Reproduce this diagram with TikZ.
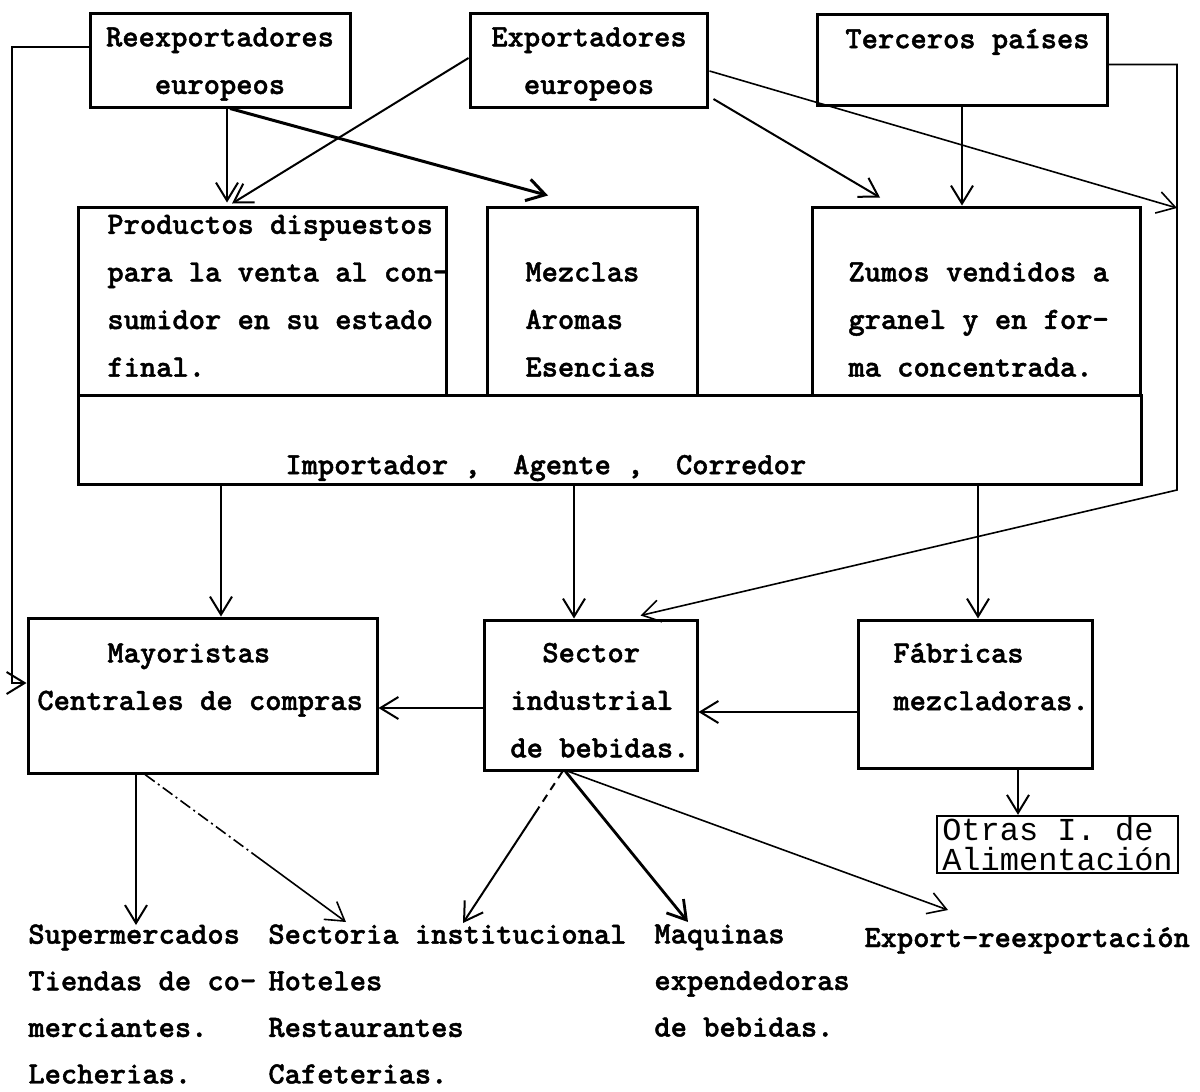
\documentclass[tikz,border=0pt]{standalone}
\usepackage{fontspec}
\usetikzlibrary{arrows.meta}
% typewriter faces: slab-serif heavy mono for the main labels, Courier-like for the small box
\newfontfamily\typefont[FakeBold=1.4]{lmmonolt10-bold.otf}
\newfontfamily\courierfont{Liberation Mono}
\begin{document}
\begin{tikzpicture}[x=0.5pt,y=-0.5pt,
  frame/.style={draw,line width=1.5pt,inner sep=0pt},
  txt/.style={inner sep=0pt,align=left,anchor=north west,
    font=\typefont\fontsize{15.5pt}{23.8pt}\selectfont,
    execute at begin node=\strut},
  txtc/.style={txt,anchor=north,align=center},
  dest/.style={txt,font=\typefont\fontsize{15.5pt}{23.3pt}\selectfont},
  link/.style={line width=1pt,-{Straight Barb[length=9pt,width=11pt]}},
]
\useasboundingbox (0,0) rectangle (1200,1092);
\fill[white] (0,0) rectangle (1200,1092);

% boxes
\node[frame,minimum width=130pt,minimum height=47pt] (reex) at (220,60) {};
\node[frame,minimum width=118.5pt,minimum height=47pt] (expo) at (588.5,60) {};
\node[frame,minimum width=145pt,minimum height=45.5pt] (terc) at (962,59.5) {};
\node[frame,minimum width=184pt,minimum height=94pt] (prod) at (262,301) {};
\node[frame,minimum width=105pt,minimum height=94pt] (mezc) at (592,301) {};
\node[frame,minimum width=164pt,minimum height=94pt] (zumo) at (976,301) {};
\node[frame,minimum width=531.5pt,minimum height=44.5pt] (impo) at (609.5,439.5) {};
\node[frame,minimum width=174.5pt,minimum height=77.5pt] (mayo) at (202.5,695.5) {};
\node[frame,minimum width=106.5pt,minimum height=75pt] (sect) at (590.5,695) {};
\node[frame,minimum width=117pt,minimum height=74pt] (fabr) at (975,694) {};
\node[draw,line width=1.2pt,inner sep=0pt,minimum width=120.5pt,minimum height=28.5pt,
  align=left,font=\courierfont\fontsize{16pt}{15pt}\selectfont] (otra) at (1057.5,844.5)
  {Otras I. de\\Alimentación};

% box texts
\node[txtc] (reexT) at (220,27) {Reexportadores\\europeos};
\node[txtc] (expoT) at (589,27) {Exportadores\\europeos};
\node[txt] (tercT) at (845,14.5) {Terceros países};
\node[txt] (prodT) at (107,214.5) {Productos dispuestos\\para la venta al con-\\sumidor en su estado\\final.};
\node[txt] (mezcT) at (525,262) {Mezclas\\Aromas\\Esencias};
\node[txt] (zumoT) at (848,262) {Zumos vendidos a\\granel y en for-\\ma concentrada.};
\node[txt] (impoT) at (285,440.5) {Importador ,~ Agente ,~ Corredor};
\node[txt] (mayoT) at (37,643) {\hspace*{35pt}Mayoristas\\Centrales de compras};
\node[txt] (sectT) at (510,642.5) {\hspace*{16pt}Sector\\industrial\\de bebidas.};
\node[txt] (fabrT) at (893,642.5) {Fábricas\\mezcladoras.};

% destinations
\node[dest] (colA) at (28,924) {Supermercados\\Tiendas de co-\\merciantes.\\Lecherias.};
\node[dest] (colB) at (268,924) {Sectoria institucional\\Hoteles\\Restaurantes\\Cafeterias.};
\node[dest] (colC) at (654,924) {Maquinas\\expendedoras\\de bebidas.};
\node[dest] (colD) at (864,914) {Export-reexportación};

% bends of the outer right-hand line
\coordinate (rmid) at (1177,208);
\coordinate (rbot) at (1177,490);

% connectors
\draw[link] ([shift={(0,-13)}]reex.west) -| ([shift={(-15,-12.5)}]mayo.west) -- ([shift={(0,-12.5)}]mayo.west);
\draw[link] ([shift={(7,0)}]reex.south) -- ([shift={(-35,-3)}]prod.north);
\draw[link,line width=1.5pt] ([shift={(10,0)}]reex.south) -- ([shift={(-44,-10)}]mezc.north);
\draw[link] ([shift={(0,-2)}]expo.west) -- ([shift={(-30,-2)}]prod.north);
\draw[link] ([shift={(5,39)}]expo.east) -- ([shift={(-96,-8)}]zumo.north);
\draw[link,line width=0.8pt] ([shift={(1,11)}]expo.east) -- (rmid);
\draw[link] (terc.south) -- (terc.south |- zumo.north);
\draw[link,line width=0.8pt] ([shift={(0,5)}]terc.east) -| (rbot) -- ([shift={(50,-3)}]sect.north);
\draw[link] ([shift={(18.5,0)}]mayo.north |- impo.south) -- ([shift={(18.5,0)}]mayo.north);
\draw[link] ([shift={(-16.5,0)}]sect.north |- impo.south) -- ([shift={(-16.5,0)}]sect.north);
\draw[link] ([shift={(3,0)}]fabr.north |- impo.south) -- ([shift={(3,0)}]fabr.north);
\draw[link] ([shift={(0,13)}]sect.west) -- ([shift={(0,13)}]mayo.east |- sect.west);
\draw[link] ([shift={(0,18)}]fabr.west) -- ([shift={(0,18)}]sect.east |- fabr.west);
\draw[link] ([shift={(43,0)}]fabr.south) -- ([shift={(43,0)}]fabr.south |- otra.north);

\draw[link] ([shift={(-66.5,0)}]mayo.south) -- ([shift={(108,1)}]colA.north west);
\draw[link,line width=0.8pt,
  dash pattern=on 6pt off 2pt on 1pt off 2pt on 6pt off 2pt on 1pt off 2pt
    on 6pt off 2pt on 1pt off 2pt on 6pt off 2pt on 1pt off 2pt
    on 6pt off 2pt on 1pt off 2pt on 6pt off 2pt on 1pt off 2pt on 200pt off 1pt]
  ([shift={(-57.5,0)}]mayo.south) -- ([shift={(78,-2)}]colB.north west);
\draw[link,dash pattern=on 4pt off 3pt on 4pt off 3pt on 4pt off 3pt on 200pt off 1pt]
  ([shift={(-28,0)}]sect.south) -- ([shift={(195,-1)}]colB.north west);
\draw[link,line width=1.4pt] ([shift={(-25,0)}]sect.south) -- ([shift={(34,-2)}]colC.north west);
\draw[link,line width=0.8pt] ([shift={(-22,0)}]sect.south) -- ([shift={(84,-4)}]colD.north west);
\end{tikzpicture}
\end{document}
